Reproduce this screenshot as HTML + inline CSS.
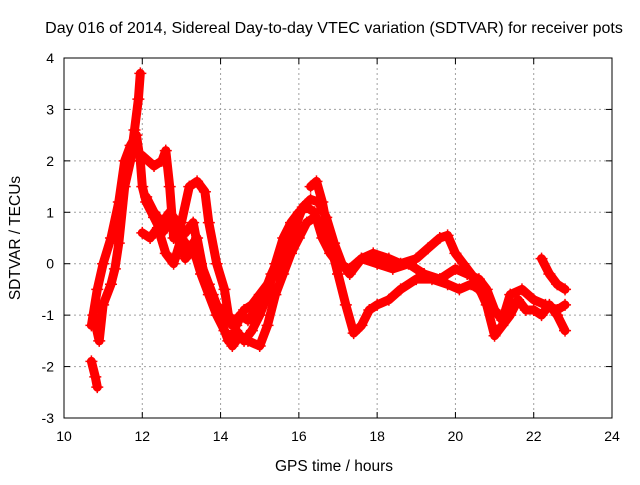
<!DOCTYPE html>
<html><head><meta charset="utf-8"><style>
body{margin:0;background:#fff;}
svg text{font-family:"Liberation Sans",sans-serif;font-size:14px;fill:#000;}
svg text.big{font-size:15.5px;}
svg text.title{font-size:16px;}
</style></head><body>
<svg id="chart" width="640" height="480" xmlns="http://www.w3.org/2000/svg">
<text class="title" x="334" y="33" text-anchor="middle">Day 016 of 2014, Sidereal Day-to-day VTEC variation (SDTVAR) for receiver pots</text>
<text class="big" x="334" y="471" text-anchor="middle">GPS time / hours</text>
<text class="big" transform="translate(20,238) rotate(-90)" text-anchor="middle">SDTVAR / TECUs</text>
<g id="grid"></g>
<g id="series"></g>
<rect x="64" y="58" width="548" height="360" fill="none" stroke="#000" stroke-width="1"/>
<g id="ticks"></g>
</svg>
<script>
const xTicks=[10,12,14,16,18,20,22,24];
const yTicks=[-3,-2,-1,0,1,2,3,4];
const trackA=[[10.7,-1.2],[10.85,-0.5],[11.0,0],[11.2,0.5],[11.4,1.2],[11.55,2.0],[11.7,2.3],[11.85,2.5],[11.95,2.0],[12.0,1.5],[12.1,1.2],[12.3,0.9],[12.5,0.6],[12.7,0.8],[12.9,0.5],[13.1,0.1],[13.3,0.3],[13.5,-0.2],[13.7,-0.6],[13.9,-1.0],[14.1,-1.3],[14.3,-1.6],[14.5,-1.4],[14.7,-1.5],[15.0,-1.6],[15.2,-1.2],[15.4,-0.6],[15.6,-0.2],[15.8,0.2],[16.0,0.5],[16.2,0.8],[16.4,0.9],[16.6,0.7],[16.8,0.4],[17.0,-0.2],[17.2,-0.8],[17.4,-1.35],[17.6,-1.2],[17.8,-0.9],[18.0,-0.8],[18.3,-0.7],[18.6,-0.5],[19.0,-0.3],[19.4,-0.3],[19.8,-0.4],[20.1,-0.5],[20.4,-0.4],[20.6,-0.5],[20.8,-0.7]];
const trackB=[[10.75,-1.0],[10.9,-1.5],[11.0,-0.8],[11.2,-0.4],[11.3,-0.1],[11.4,0.4],[11.55,1.5],[11.7,2.0],[11.8,2.6],[11.9,3.2],[11.95,3.7]];
const trackC=[[11.8,2.2],[12.0,2.1],[12.3,1.9],[12.5,2.0],[12.6,2.2],[12.7,1.5],[12.8,0.5],[13.0,0.8],[13.2,1.5],[13.4,1.6],[13.6,1.4],[13.7,0.8],[13.9,0.0],[14.1,-0.5],[14.2,-1.0],[14.4,-1.2],[14.6,-0.9],[14.8,-0.8],[15.0,-0.6],[15.3,-0.3],[15.6,0.0],[15.9,0.7],[16.1,1.1],[16.3,1.25],[16.5,1.2],[16.7,0.9],[16.9,0.4],[17.1,0.0],[17.3,-0.2],[17.6,0.1],[17.9,0.2],[18.3,0.1],[18.6,0.0],[19.0,0.1],[19.3,0.3],[19.6,0.5],[19.8,0.55],[20.0,0.2],[20.2,0.0],[20.5,-0.3],[20.8,-0.8],[21.0,-1.4],[21.2,-1.2],[21.4,-1.0],[21.6,-0.7],[21.8,-0.9],[22.0,-0.9],[22.2,-1.0],[22.4,-0.8],[22.6,-1.0],[22.8,-1.3]];
const trackD=[[12.0,0.6],[12.2,0.5],[12.4,0.7],[12.6,0.2],[12.8,0.0],[13.0,0.5],[13.2,0.3],[13.4,0.5],[13.6,-0.3],[13.8,-0.6],[14.0,-1.1],[14.2,-1.5],[14.4,-1.3],[14.6,-1.5],[14.8,-1.3],[15.0,-1.0],[15.2,-0.6],[15.4,0.0],[15.6,0.5],[15.8,0.8],[16.0,1.0],[16.2,1.1],[16.4,1.0],[16.6,0.5],[16.8,0.2],[17.0,0.0],[17.3,-0.1],[17.6,0.1],[18.0,0.0],[18.4,-0.1],[18.8,0.0],[19.2,-0.2],[19.6,-0.3],[20.0,-0.1],[20.3,-0.2],[20.6,-0.3],[20.8,-0.5],[21.0,-0.9],[21.2,-1.1],[21.4,-0.6],[21.7,-0.5],[22.0,-0.7],[22.3,-0.8],[22.6,-0.9],[22.8,-0.8]];
const trackE=[[10.7,-1.9],[10.8,-2.2],[10.85,-2.4]];
const trackF=[[22.2,0.1],[22.4,-0.2],[22.6,-0.4],[22.8,-0.5]];
const trackG=[[16.3,1.5],[16.45,1.6],[16.6,1.2],[16.75,0.6]];
const trackH=[[12.1,1.3],[12.3,1.0],[12.5,0.8],[12.7,1.0],[12.9,0.8],[13.1,0.6],[13.3,0.8],[13.5,0.0],[13.7,-0.4],[13.9,-0.8],[14.1,-1.0],[14.3,-1.2],[14.5,-1.0],[14.7,-1.1],[15.0,-0.8],[15.3,-0.2],[15.6,0.3]];
const tracks=[trackA,trackB,trackC,trackD,trackE,trackF,trackG,trackH];

const NS="http://www.w3.org/2000/svg";
const X0=64,X1=612,Y0=418,Y1=58;
function xs(t){return X0+(t-10)/(24-10)*(X1-X0);}
function ys(v){return Y0-(v+3)/(4+3)*(Y0-Y1);}
function mk(tag,attrs,parent){const e=document.createElementNS(NS,tag);for(const k in attrs)e.setAttribute(k,attrs[k]);parent.appendChild(e);return e;}
const grid=document.getElementById('grid'),ticks=document.getElementById('ticks'),ser=document.getElementById('series');
xTicks.forEach(t=>{
  const x=xs(t);
  if(t>10&&t<24){const l=mk('line',{x1:x,x2:x,y1:Y1,y2:Y0,stroke:'#a0a0a0','stroke-dasharray':'2,3'},grid);
  
  }
  mk('line',{x1:x,x2:x,y1:Y0,y2:Y0-6,stroke:'#000'},ticks);
  mk('line',{x1:x,x2:x,y1:Y1,y2:Y1+6,stroke:'#000'},ticks);
  const tx=mk('text',{x:x,y:Y0+23,'text-anchor':'middle'},ticks);tx.textContent=t;
  
  
});
yTicks.forEach(v=>{
  const y=ys(v);
  if(v>-3&&v<4){const l=mk('line',{x1:X0,x2:X1,y1:y,y2:y,stroke:'#a0a0a0','stroke-dasharray':'2,3'},grid);
  
  }
  mk('line',{x1:X0,x2:X0+6,y1:y,y2:y,stroke:'#000'},ticks);
  mk('line',{x1:X1,x2:X1-6,y1:y,y2:y,stroke:'#000'},ticks);
  const tx=mk('text',{x:X0-10,y:y+5,'text-anchor':'end'},ticks);tx.textContent=v;
  
  
});
tracks.forEach(tr=>{
  const pts=tr.map(p=>xs(p[0]).toFixed(1)+','+ys(p[1]).toFixed(1)).join(' ');
  const pl=mk('polyline',{points:pts,fill:'none',stroke:'#ff0000','stroke-width':9,'stroke-linejoin':'round','stroke-linecap':'round'},ser);
  
  
  tr.forEach(p=>{
    const x=xs(p[0]),y=ys(p[1]);
    const m=mk('path',{d:`M${x-6},${y}H${x+6}M${x},${y-6}V${y+6}`,stroke:'#ff0000','stroke-width':1.5},ser);
    
    
  });
});
</script>
</body></html>
